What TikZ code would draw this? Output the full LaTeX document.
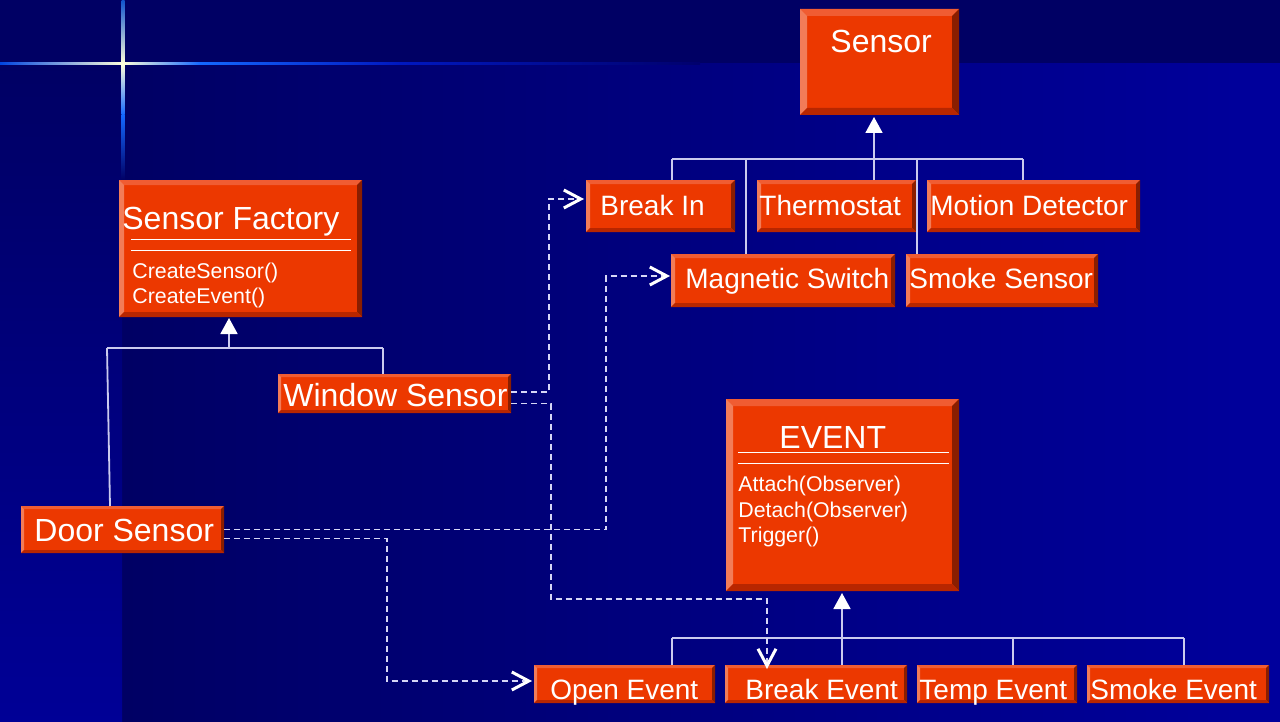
\documentclass[tikz,border=0pt]{standalone}
\usepackage{fontspec}
\setmainfont{Liberation Sans}
\usetikzlibrary{arrows.meta,calc}
\definecolor{bgdark}{HTML}{000064}
\definecolor{bgright}{HTML}{00009C}
\definecolor{bgleftbot}{HTML}{000096}
\definecolor{boxfill}{HTML}{EC3800}
\definecolor{bevtop}{HTML}{F05C32}
\definecolor{bevleft}{HTML}{F27C58}
\definecolor{bevright}{HTML}{8A1E00}
\definecolor{bevbot}{HTML}{B82600}
\definecolor{linec}{HTML}{CACAEE}
\definecolor{depc}{HTML}{D6D6F6}
\definecolor{flareblue}{HTML}{1468FF}
\definecolor{flarewhite}{HTML}{FFFFDC}
\definecolor{flaredim}{HTML}{0018C0}
\definecolor{flareleft}{HTML}{0044E0}
\newcommand\bevbox[6]{%
  \fill[boxfill] (#2,#3) rectangle (#4,#5);
  \fill[bevtop] (#2,#3) -- (#4,#3) -- (#4-#6,#3+#6) -- (#2+#6,#3+#6) -- cycle;
  \fill[bevleft] (#2,#3) -- (#2+#6,#3+#6) -- (#2+#6,#5-#6) -- (#2,#5) -- cycle;
  \fill[bevright] (#4,#3) -- (#4,#5) -- (#4-#6,#5-#6) -- (#4-#6,#3+#6) -- cycle;
  \fill[bevbot] (#2,#5) -- (#4,#5) -- (#4-#6,#5-#6) -- (#2+#6,#5-#6) -- cycle;
  \node[boxnode, minimum width={(#4-#2)*0.5pt}, minimum height={(#5-#3)*0.5pt}, anchor=north west] (#1) at (#2,#3) {};
}
\tikzset{
  boxnode/.style={inner sep=0pt, outer sep=0pt, draw=none},
  bigtxt/.style={font=\fontsize{16}{19}\selectfont, text=white, inner sep=0pt, anchor=base west},
  midtxt/.style={font=\fontsize{14}{17}\selectfont, text=white, inner sep=0pt, anchor=base west},
  smalltxt/.style={font=\fontsize{10.67}{13}\selectfont, text=white, inner sep=0pt, anchor=base west},
  inh/.style={draw=linec, line width=0.9pt},
  inharrow/.style={inh, -{Triangle[length=8pt,width=8.5pt,color=white]}, shorten >=1pt},
  dep/.style={draw=depc, line width=0.95pt, dash pattern=on 3pt off 2pt,
    -{Straight Barb[length=8.5pt,width=9pt,line width=1.5pt,color=white]}},
  sepline/.style={draw=white, line width=0.75pt}
}
\begin{document}
\begin{tikzpicture}[x=0.5pt,y=-0.5pt]
\useasboundingbox (0,0) rectangle (1280,722);
% background
\fill[bgdark] (0,0) rectangle (1280,64);
\shade[left color=bgdark, right color=bgright] (122,64) rectangle (1280,722);
\shade[top color=bgdark, bottom color=bgleftbot] (0,64) rectangle (122,722);
% flare
\shade[left color=flareleft, right color=flarewhite] (0,63) rectangle (123,65);
\shade[left color=flarewhite, right color=flareblue] (123,63) rectangle (200,65);
\shade[left color=flareblue, right color=flaredim] (200,63) rectangle (400,65);
\shade[left color=flaredim, right color=bgdark!85!bgright] (400,63) rectangle (700,65);
\shade[top color=flareblue!80!black, bottom color=flarewhite] (121.5,0) rectangle (124.5,64);
\shade[top color=flarewhite, bottom color=flareblue] (121.5,64) rectangle (124.5,115);
\shade[top color=flareblue, bottom color=bgdark] (121.5,115) rectangle (124.5,180);
% boxes
\bevbox{Sensor}{800}{9}{959}{115}{7}
\bevbox{Factory}{119}{180}{362}{317}{5}
\bevbox{BreakIn}{586}{180}{735}{232}{4}
\bevbox{Thermo}{757}{180}{916}{232}{4}
\bevbox{Motion}{927}{180}{1140}{232}{4}
\bevbox{Magnetic}{671}{254}{895}{307}{4}
\bevbox{Smoke}{906}{254}{1098}{307}{4}
\bevbox{Window}{278}{374}{511}{413}{3}
\bevbox{Door}{21}{506}{224}{553}{3}
\bevbox{Event}{726}{399}{959}{591}{7}
\bevbox{OpenEv}{534}{665}{715}{703}{3}
\bevbox{BreakEv}{725}{665}{907}{703}{3}
\bevbox{TempEv}{917}{665}{1077}{703}{3}
\bevbox{SmokeEv}{1087}{665}{1269}{703}{3}
% texts
\node[bigtxt] (tSensor) at (830,53) {Sensor};
\node[bigtxt] (tFactory) at (122,229) {Sensor Factory};
\draw[sepline] (131,239.5) -- (351,239.5);
\draw[sepline] (131,250.5) -- (351,250.5);
\node[smalltxt] (tCS) at (132,278) {CreateSensor()};
\node[smalltxt] (tCE) at (132,303) {CreateEvent()};
\node[bigtxt] (tWindow) at (283,406) {Window Sensor};
\node[bigtxt] (tDoor) at (34,541) {Door Sensor};
\node[bigtxt] (tEvent) at (779,448) {EVENT};
\draw[sepline] (738,452.5) -- (949,452.5);
\draw[sepline] (738,463.5) -- (949,463.5);
\node[smalltxt] (tAt) at (738,491) {Attach(Observer)};
\node[smalltxt] (tDe) at (738,517) {Detach(Observer)};
\node[smalltxt] (tTr) at (738,542) {Trigger()};
\node[midtxt] (tBreakIn) at (600,215) {Break In};
\node[midtxt] (tThermo) at (759,215) {Thermostat};
\node[midtxt] (tMotion) at (930,215) {Motion Detector};
\node[midtxt] (tMagnetic) at (685,288) {Magnetic Switch};
\node[midtxt] (tSmoke) at (909,288) {Smoke Sensor};
\node[midtxt] (tOpenEv) at (550,699) {Open Event};
\node[midtxt] (tBreakEv) at (745,699) {Break Event};
\node[midtxt] (tTempEv) at (919,699) {Temp Event};
\node[midtxt] (tSmokeEv) at (1090,699) {Smoke Event};
% Sensor hierarchy
\coordinate (sb1) at (672,159);
\coordinate (sb2) at (746,159);
\coordinate (sbm) at (874,159);
\coordinate (sb4) at (917,159);
\coordinate (sb5) at (1023,159);
\draw[inh] (sb1) -- (sb5);
\draw[inh] (BreakIn.north -| sb1) -- (sb1);
\draw[inh] (Magnetic.north -| sb2) -- (sb2);
\draw[inh] (Thermo.north -| sbm) -- (sbm);
\draw[inh] (Smoke.north -| sb4) -- (sb4);
\draw[inh] (Motion.north -| sb5) -- (sb5);
\draw[inharrow] (sbm) -- (Sensor.south -| sbm);
% Factory hierarchy
\coordinate (fb1) at (107,348);
\coordinate (fbm) at (229,348);
\coordinate (fb2) at (383,348);
\coordinate (dx) at (110,0);
\draw[inh] (fb1) -- (fb2);
\draw[inh] (Door.north -| dx) -- (fb1);
\draw[inh] (Window.north -| fb2) -- (fb2);
\draw[inharrow, shorten >=0.5pt] (fbm) -- (Factory.south -| fbm);
% Event hierarchy
\coordinate (eb1) at (672,638);
\coordinate (ebm) at (842,638);
\coordinate (eb3) at (1013,638);
\coordinate (eb4) at (1184,638);
\draw[inh] (eb1) -- (eb4);
\draw[inh] (OpenEv.north -| eb1) -- (eb1);
\draw[inh] (BreakEv.north -| ebm) -- (ebm);
\draw[inh] (TempEv.north -| eb3) -- (eb3);
\draw[inh] (SmokeEv.north -| eb4) -- (eb4);
\draw[inharrow] (ebm) -- (Event.south -| ebm);
% dependencies
\coordinate (w1) at (549,199);
\coordinate (w2) at (551,599);
\coordinate (w3) at (767,599);
\coordinate (d1) at (606,276);
\coordinate (d2) at (387,681);
\draw[dep, shorten >=1pt] ([yshift=0.75pt]Window.east) -| (w1) -- (BreakIn.west |- w1);
\draw[dep, shorten >=-2pt] ([yshift=-5pt]Window.east) -| (w2) -- (w3) -- (BreakEv.north -| w3);
\draw[dep, shorten >=0.5pt] (Door.east) -| (d1) -- (Magnetic.west |- d1);
\draw[dep, shorten >=1pt] ([yshift=-4.5pt]Door.east) -| (d2) -- (OpenEv.west |- d2);
\end{tikzpicture}
\end{document}
